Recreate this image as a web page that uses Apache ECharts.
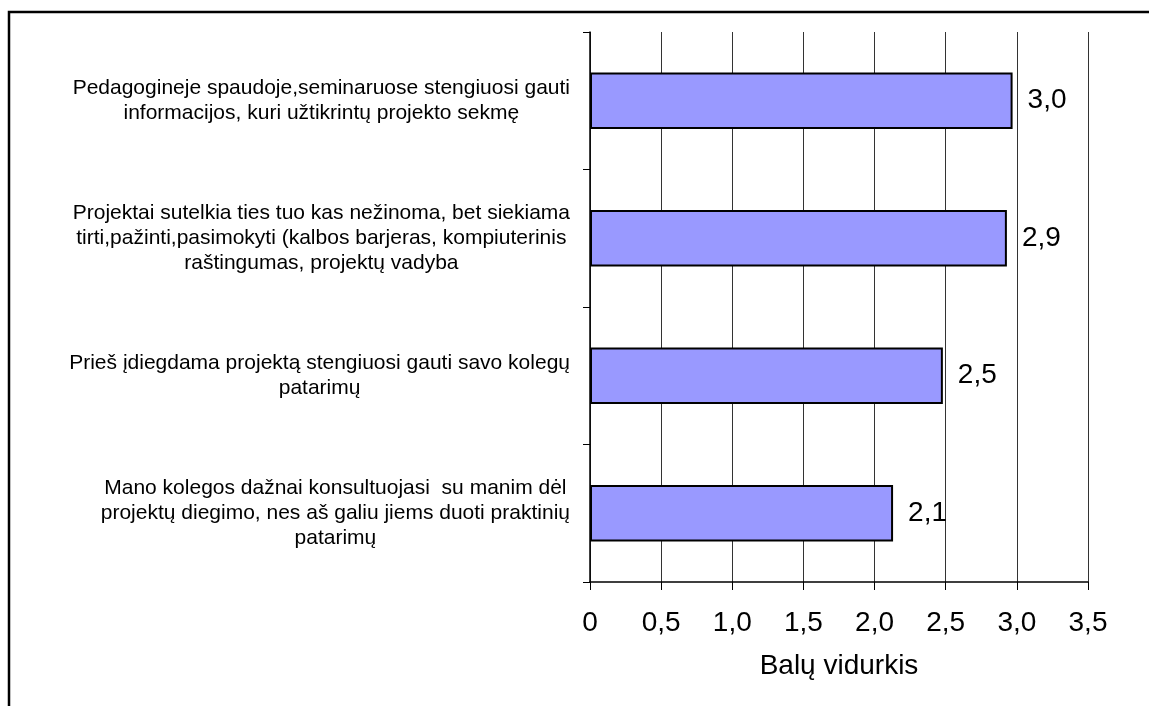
<!DOCTYPE html>
<html>
<head>
<meta charset="utf-8">
<script src="https://cdn.jsdelivr.net/npm/echarts@6/dist/echarts.min.js"></script>
<style>
  html, body { margin: 0; padding: 0; background: #fff; }
  #chart { width: 1149px; height: 706px; }
</style>
</head>
<body>
<div id="chart"></div>
<script>
const categories = [
  'Pedagogineje spaudoje,seminaruose stengiuosi gauti\ninformacijos, kuri užtikrintų projekto sekmę',
  'Projektai sutelkia ties tuo kas nežinoma, bet siekiama\ntirti,pažinti,pasimokyti (kalbos barjeras, kompiuterinis\nraštingumas, projektų vadyba',
  'Prieš įdiegdama projektą stengiuosi gauti savo kolegų\npatarimų',
  'Mano kolegos dažnai konsultuojasi  su manim dėl\nprojektų diegimo, nes aš galiu jiems duoti praktinių\npatarimų'
]
const values = [2.97, 2.93, 2.48, 2.13]
const axisName = 'Balų vidurkis'

const font = '"Liberation Sans", Arial, sans-serif'
// kablelis vietoj taško
const fmt = v => (v === 0 ? '0' : v.toFixed(1).replace('.', ','))

const chart = echarts.init(document.getElementById('chart'))
chart.setOption({
  animation: false,
  backgroundColor: '#fff',
  textStyle: { fontFamily: font },
  graphic: [
    {
      type: 'rect',
      shape: { x: 9, y: 12, width: 1300, height: 900 },
      style: { fill: 'none', stroke: '#000', lineWidth: 2.5 },
      silent: true
    }
  ],
  grid: { left: 590, right: 61, top: 32, bottom: 124, containLabel: false },
  xAxis: {
    type: 'value',
    min: 0,
    max: 3.5,
    interval: 0.5,
    name: axisName,
    nameLocation: 'middle',
    nameGap: 70,
    nameTextStyle: { fontSize: 28, color: '#000', fontFamily: font },
    axisLine: { show: true, lineStyle: { color: '#000', width: 1.5 } },
    axisTick: { show: true, length: 8, lineStyle: { color: '#000' } },
    axisLabel: {
      fontSize: 28,
      color: '#000',
      margin: 27,
      fontFamily: font,
      formatter: fmt
    },
    splitLine: { show: true, lineStyle: { color: '#333', width: 1 } }
  },
  yAxis: {
    type: 'category',
    inverse: true,
    data: categories,
    axisLine: { show: true, lineStyle: { color: '#000', width: 1.5 } },
    axisTick: { show: true, length: 7, lineStyle: { color: '#000' } },
    axisLabel: {
      align: 'right',
      margin: 20,
      color: '#000',
      fontSize: 21,
      lineHeight: 25,
      fontFamily: font,
      formatter: v => v.split('\n').map(l => '{c|' + l + '}').join('\n'),
      rich: {
        c: { align: 'center', fontSize: 21, lineHeight: 25, color: '#000', fontFamily: font }
      }
    }
  },
  series: [
    {
      type: 'bar',
      data: values,
      barWidth: '41%',
      itemStyle: { color: '#9999ff', borderColor: '#000', borderWidth: 2 },
      label: {
        show: true,
        position: 'right',
        distance: 15,
        fontSize: 28,
        color: '#000',
        fontFamily: font,
        formatter: p => fmt(p.value)
      }
    }
  ]
})
</script>
</body>
</html>
